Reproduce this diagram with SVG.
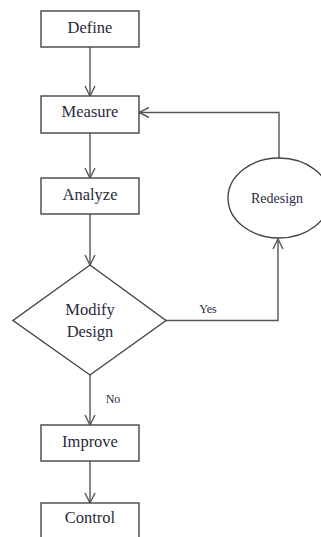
<svg xmlns="http://www.w3.org/2000/svg" width="321" height="537" viewBox="0 0 321 537">
<style>
.box{fill:#fff;stroke:#444;stroke-width:1.4}
text{font-family:"Liberation Serif","Times New Roman","DejaVu Serif",serif;fill:#2a2a3a;text-anchor:middle}
.big{font-size:16.5px}
.sm{font-size:12px}
.ln{fill:none;stroke:#555;stroke-width:1.4}
</style>
<defs>
<marker id="ah" viewBox="0 0 12 12" refX="11" refY="6" markerWidth="12" markerHeight="12" markerUnits="userSpaceOnUse" orient="auto">
<path d="M1,1 L11,6 L1,11" fill="none" stroke="#555" stroke-width="1.4"/>
</marker>
</defs>
<rect width="321" height="537" fill="#fff"/>
<g id="connectors">
<line class="ln" x1="90" y1="47" x2="90" y2="96" marker-end="url(#ah)"/>
<line class="ln" x1="90" y1="133" x2="90" y2="178" marker-end="url(#ah)"/>
<line class="ln" x1="90" y1="214" x2="90" y2="265" marker-end="url(#ah)"/>
<polyline class="ln" points="166,320.5 278,320.5 278,239" marker-end="url(#ah)"/>
<polyline class="ln" points="279,158 279,112.5 139,112.5" marker-end="url(#ah)"/>
<line class="ln" x1="90" y1="375" x2="90" y2="425" marker-end="url(#ah)"/>
<line class="ln" x1="90" y1="461" x2="90" y2="503" marker-end="url(#ah)"/>
<text class="sm" x="208" y="313">Yes</text>
<text class="sm" x="113" y="403">No</text>
</g>
<g id="define"><rect class="box" x="41" y="11" width="98" height="36"/><text class="big" x="90" y="33">Define</text></g>
<g id="measure"><rect class="box" x="41" y="96" width="98" height="37"/><text class="big" x="90" y="117">Measure</text></g>
<g id="analyze"><rect class="box" x="41" y="178" width="98" height="36"/><text class="big" x="90" y="200">Analyze</text></g>
<g id="modify"><polygon class="box" points="90,265 166,320.5 90,375 13,320.5"/><text class="big" x="90" y="315">Modify</text><text class="big" x="90" y="337">Design</text></g>
<g id="redesign"><ellipse class="box" cx="279" cy="198" rx="51" ry="40"/><text style="font-size:14px" x="277" y="203">Redesign</text></g>
<g id="improve"><rect class="box" x="41" y="425" width="98" height="36"/><text class="big" x="90" y="447">Improve</text></g>
<g id="control"><rect class="box" x="41" y="503" width="98" height="40"/><text class="big" x="90" y="523">Control</text></g>
</svg>
